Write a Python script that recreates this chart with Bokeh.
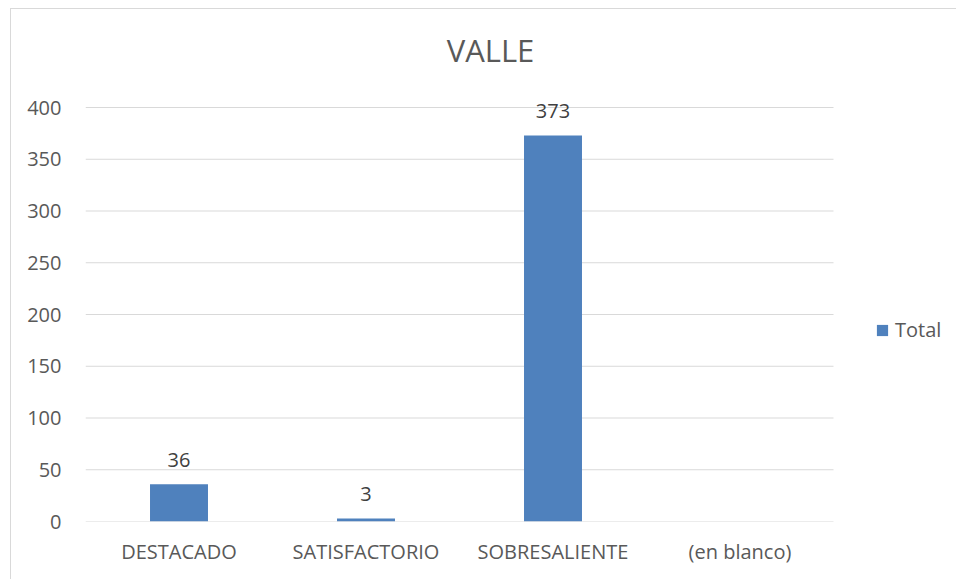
from bokeh.plotting import figure
from bokeh.models import ColumnDataSource, Range1d, LabelSet, Legend, LegendItem, FixedTicker, Label
from bokeh.core.properties import value
from bokeh.embed import file_html
from bokeh.resources import INLINE

categories = ["DESTACADO", "SATISFACTORIO", "SOBRESALIENTE", "(en blanco)"]
totals = [36, 3, 373, float("nan")]
series_name = "Total"
title_text = "VALLE"
y_ticks = [0, 50, 100, 150, 200, 250, 300, 350, 400]

FONT = "Open Sans"
GRAY = "#595959"
BLUE = "#4F81BD"
GRID = "#d9d9d9"

n = len(categories)
xs = [i + 0.5 for i in range(n)]
src = ColumnDataSource(data=dict(x=xs, cat=categories, val=totals))
lab_x = [x for x, v in zip(xs, totals) if v == v]
lab_vals = [v for v in totals if v == v]
lab_src = ColumnDataSource(data=dict(x=lab_x, val=lab_vals, txt=[str(int(v)) for v in lab_vals]))

# The frame spans the plot area plus the title band above and legend column at
# right, so annotations placed there are not clipped; gridlines are limited to the bars area.
plot_w, extra_w = 748, 124
plot_h, top_h = 414, 98
x_end = n * (plot_w + extra_w) / plot_w
y_end = y_ticks[-1] * (plot_h + top_h) / plot_h

p = figure(x_range=Range1d(0, x_end), y_range=Range1d(0, y_end), title=None,
           width=946, height=571, output_backend="svg", toolbar_location=None,
           min_border_left=74, min_border_right=0, min_border_top=0, min_border_bottom=59)
p.styles = {"margin-left": "10px", "margin-top": "8px",
            "border-left": "1px solid #d9d9d9", "border-top": "1px solid #d9d9d9"}
p.outline_line_color = None
p.background_fill_color = "white"
p.border_fill_color = "white"
p.xgrid.grid_line_color = None
p.ygrid.grid_line_color = None

grid_src = ColumnDataSource(data=dict(y=y_ticks, x0=[0] * len(y_ticks), x1=[n] * len(y_ticks)))
p.segment(x0="x0", x1="x1", y0="y", y1="y", source=grid_src, line_color=GRID, line_width=1)

r = p.vbar(x="x", top="val", width=0.31, source=src, fill_color=BLUE, line_color=None)

title_lbl = Label(x=plot_w / 2 + 31, y=472, x_units="screen", y_units="screen",
                  text=title_text, text_align="center", text_baseline="alphabetic",
                  text_font=FONT, text_font_size="31px", text_color=GRAY)
p.add_layout(title_lbl)

p.yaxis.ticker = FixedTicker(ticks=y_ticks)
p.xaxis.ticker = FixedTicker(ticks=xs)
p.xaxis.major_label_overrides = {x: c for x, c in zip(xs, categories)}
for ax in (p.xaxis[0], p.yaxis[0]):
    ax.axis_line_color = None
    ax.major_tick_line_color = None
    ax.minor_tick_line_color = None
    ax.major_tick_out = 0
    ax.major_tick_in = 0
    ax.minor_tick_out = 0
    ax.major_label_text_font = FONT
    ax.major_label_text_font_size = "20px"
    ax.major_label_text_color = GRAY
p.yaxis.major_label_standoff = 24
p.xaxis.major_label_standoff = 16

labels = LabelSet(x="x", y="val", text="txt", source=lab_src, y_offset=17,
                  text_align="center", text_baseline="alphabetic",
                  text_font=value(FONT), text_font_size=value("20px"), text_color="#404040")
p.add_layout(labels)

legend = Legend(items=[LegendItem(label=series_name, renderers=[r])],
                location=(790, 178), orientation="vertical",
                padding=0, margin=0, spacing=0, border_line_color=None,
                background_fill_alpha=0, glyph_width=14, glyph_height=14,
                label_height=14, label_standoff=6,
                label_text_font=FONT, label_text_font_size="20px", label_text_color=GRAY)
p.add_layout(legend, "center")

open("out.html", "w").write(file_html(p, INLINE))
